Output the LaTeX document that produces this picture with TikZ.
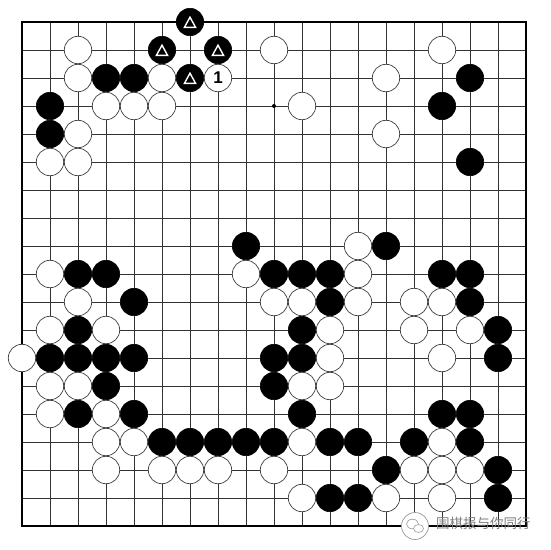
\documentclass[tikz,border=0pt]{standalone}
\usepackage{fontspec}
\newfontfamily\lab{Liberation Sans}
\newfontfamily\cjk{Noto Sans CJK SC}
\begin{document}
\begin{tikzpicture}[x=1pt,y=-1pt]
\tikzset{
 bst/.style={circle,fill=black,draw=black,line width=0.6pt,minimum size=27.4pt,inner sep=0pt},
 wst/.style={circle,fill=white,draw=black!75,line width=0.7pt,minimum size=27.4pt,inner sep=0pt},
 gridl/.style={line width=0.8pt,black!80},
 edgel/.style={line width=2pt,black},
 tri/.style={white,line width=1.4pt,line join=miter},
}
\useasboundingbox[fill=white] (0,0) rectangle (550,550);
% grid
\foreach \i in {1,...,17} {
  \draw[gridl] (22+28*\i,22) -- (22+28*\i,526);
  \draw[gridl] (22,22+28*\i) -- (526,22+28*\i);
}
\draw[edgel] (22,22) rectangle (526,526);
\node[circle,fill=black,minimum size=4pt,inner sep=0pt] (star) at (274,106) {};
% black stones
\foreach \c/\r in {6/0,5/1,7/1,3/2,4/2,6/2,16/2,1/3,15/3,1/4,16/5,8/8,13/8,
  2/9,3/9,9/9,10/9,11/9,15/9,16/9,4/10,11/10,16/10,2/11,10/11,17/11,
  1/12,2/12,3/12,4/12,9/12,10/12,17/12,3/13,9/13,2/14,4/14,10/14,15/14,16/14,
  5/15,6/15,7/15,8/15,9/15,11/15,12/15,14/15,16/15,13/16,17/16,11/17,12/17,17/17}
  \node[bst] (b-\c-\r) at (22+28*\c,22+28*\r) {};
% white stones
\foreach \c/\r in {2/1,9/1,15/1,2/2,5/2,13/2,3/3,4/3,5/3,10/3,2/4,13/4,1/5,2/5,
  12/8,1/9,8/9,12/9,2/10,9/10,10/10,12/10,14/10,15/10,
  1/11,3/11,11/11,14/11,16/11,0/12,11/12,15/12,1/13,2/13,10/13,11/13,1/14,3/14,
  3/15,4/15,10/15,15/15,3/16,5/16,6/16,7/16,9/16,14/16,15/16,16/16,10/17,13/17,15/17}
  \node[wst] (w-\c-\r) at (22+28*\c,22+28*\r) {};
\node[wst,font=\lab\bfseries\fontsize{17}{17}\selectfont] (w-7-2) at (22+28*7,22+28*2) {1};
% triangle marks
\foreach \n in {b-6-0,b-5-1,b-7-1,b-6-2}
  \draw[tri] ([shift={(0,-4.8)}]\n.center) -- ++(5.6,10.2) -- ++(-11.2,0) -- cycle;
% watermark
\node[circle,draw=black!40,fill=white,line width=0.7pt,minimum size=27pt,inner sep=0pt] (wx) at (415,526) {};
\draw[black!40,line width=0.6pt] ([shift={(-2.5,-2)}]wx.center) ellipse (6 and 4.8);
\draw[black!40,line width=0.6pt,fill=white] ([shift={(3.5,2.5)}]wx.center) ellipse (5 and 4);
\node[anchor=west,inner sep=0pt,font=\cjk\fontsize{13.5}{14}\selectfont,text=black!50] (wm) at (436,523) {围棋报与你同行};
\end{tikzpicture}
\end{document}
